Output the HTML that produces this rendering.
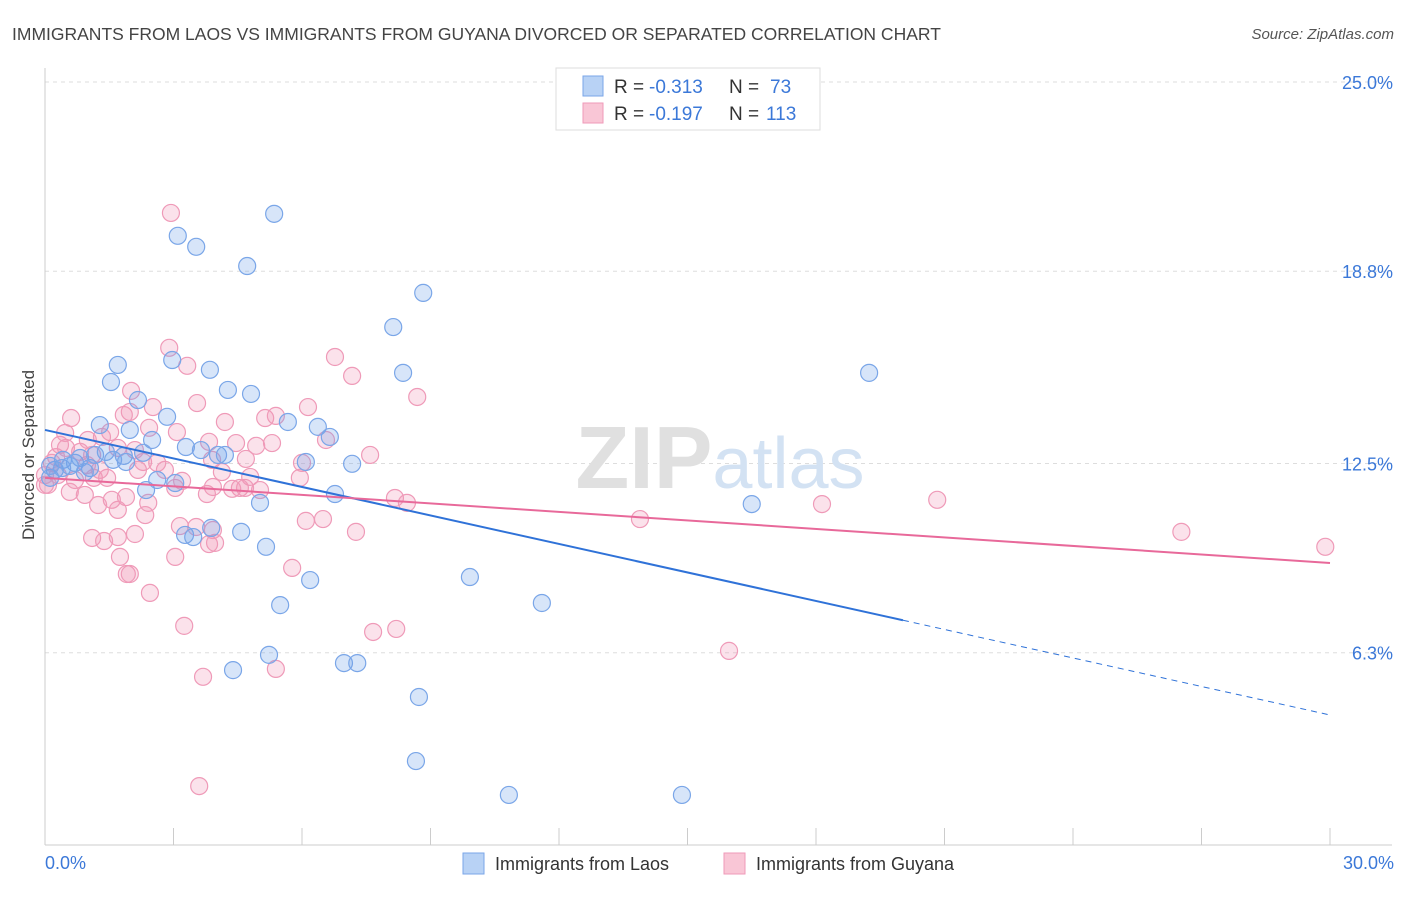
<!DOCTYPE html>
<html><head><meta charset="utf-8"><style>
body{margin:0;background:#fff;font-family:"Liberation Sans",sans-serif}
svg text{font-family:"Liberation Sans",sans-serif}
</style></head><body>
<svg id="chart" width="1406" height="892">
<text x="12" y="40" font-size="17.5" fill="#444">IMMIGRANTS FROM LAOS VS IMMIGRANTS FROM GUYANA DIVORCED OR SEPARATED CORRELATION CHART</text>
<text x="1394" y="39" font-size="15" fill="#555" font-style="italic" text-anchor="end">Source: ZipAtlas.com</text>
<g id="grid"></g>
<text x="720" y="488" font-size="88" text-anchor="middle" font-family="Liberation Serif"><tspan fill="#e0e0e0" font-weight="bold">ZIP</tspan><tspan fill="#d3e2f3" font-family="Liberation Sans" font-size="72">atlas</tspan></text>
<text transform="translate(34,455) rotate(-90)" font-size="17" fill="#444" text-anchor="middle">Divorced or Separated</text>
<g id="marks"></g>
<g>
<rect x="556" y="68" width="264" height="62" fill="#fff" stroke="#ddd"/>
<rect x="583" y="76" width="20" height="20" fill="#b8d2f5" stroke="#7aa6e8"/>
<rect x="583" y="103" width="20" height="20" fill="#f9c6d6" stroke="#ef9ab8"/>
<text x="614" y="93" font-size="19" fill="#333">R =</text>
<text x="649" y="93" font-size="19" fill="#3b78d8">-0.313</text>
<text x="729" y="93" font-size="19" fill="#333">N =</text>
<text x="770" y="93" font-size="19" fill="#3b78d8">73</text>
<text x="614" y="120" font-size="19" fill="#333">R =</text>
<text x="649" y="120" font-size="19" fill="#3b78d8">-0.197</text>
<text x="729" y="120" font-size="19" fill="#333">N =</text>
<text x="766" y="120" font-size="19" fill="#3b78d8">113</text>
</g>
<g>
<rect x="463" y="853" width="21" height="21" fill="#b8d2f5" stroke="#7aa6e8"/>
<text x="495" y="870" font-size="18" fill="#333">Immigrants from Laos</text>
<rect x="724" y="853" width="21" height="21" fill="#f9c6d6" stroke="#ef9ab8"/>
<text x="756" y="870" font-size="18" fill="#333">Immigrants from Guyana</text>
</g>
</svg>
<script>
const yTicks=[25.0,18.8,12.5,6.3];
const yTickLabels=["25.0%","18.8%","12.5%","6.3%"];
const xTickCount=11;
const xLabels=["0.0%","30.0%"];
const laosX=[5.35,3.1,3.53,4.72,8.83,8.13,1.7,2.97,8.36,3.85,1.54,4.27,4.81,2.17,2.85,1.28,1.98,2.5,3.29,1.42,1.84,2.29,3.64,4.04,4.2,5.67,6.37,6.65,6.09,7.17,0.42,0.7,1.05,0.23,0.12,0.4,0.82,1.17,1.59,1.89,2.36,2.62,3.04,6.77,5.02,3.27,3.46,3.88,4.58,5.16,6.19,5.49,9.92,11.6,16.5,19.24,4.39,5.23,6.98,7.29,8.73,8.66,10.83,14.87,0.12,0.58,0.93];
const laosY=[20.68,19.96,19.6,18.97,18.09,16.97,15.73,15.89,15.47,15.57,15.17,14.91,14.78,14.58,14.03,13.76,13.6,13.27,13.04,12.88,12.75,12.85,12.94,12.78,12.78,13.86,13.7,13.37,12.55,12.49,12.62,12.52,12.35,12.29,12.03,12.35,12.68,12.78,12.62,12.55,11.63,11.96,11.86,11.5,11.21,10.16,10.09,10.39,10.26,9.77,8.68,7.86,8.78,7.93,11.17,15.47,5.73,6.23,5.96,5.96,4.85,2.75,1.64,1.64,12.42,12.42,12.22];
const guyX=[2.94,2.9,6.77,3.32,7.17,8.69,2.01,2.52,1.98,0.61,1.84,3.55,4.2,5.14,5.39,6.14,3.08,2.43,1.33,3.83,4.46,5.3,6.56,7.59,1.0,0.35,0.49,0.82,1.1,1.7,2.29,2.62,3.9,4.69,6.0,4.79,4.13,0.3,0.7,1.14,1.45,0.07,0.58,0.93,1.56,1.89,2.41,3.04,3.2,3.78,3.92,4.55,4.67,5.02,5.95,8.17,8.45,3.15,3.53,3.92,2.34,1.7,1.24,6.09,6.49,7.26,1.1,1.38,1.7,2.1,1.75,1.91,1.98,3.04,3.83,3.97,5.77,2.45,3.25,3.69,3.6,5.39,7.66,8.2,13.89,15.97,18.14,20.83,26.53,29.89,0.26,1.28,2.17,0.47,2.1,2.8,4.37,1.52,0.98,0.16,0.0,4.93,0.0];
const guyY=[20.71,16.29,15.99,15.7,15.37,14.68,14.88,14.35,14.19,13.99,14.09,14.48,13.86,13.99,14.06,14.35,13.53,13.67,13.37,13.21,13.17,13.17,13.27,12.78,13.27,13.11,13.01,12.88,12.78,13.01,12.55,12.52,12.62,12.65,12.52,12.06,12.22,12.12,11.96,12.03,12.03,11.8,11.57,11.47,11.31,11.4,11.21,11.7,11.93,11.5,11.73,11.7,11.7,11.63,12.03,11.37,11.21,10.45,10.42,10.32,10.81,10.98,11.14,10.62,10.68,10.26,10.06,9.96,10.09,10.19,9.44,8.88,8.88,9.44,9.86,9.9,9.08,8.26,7.18,5.51,1.93,5.77,6.98,7.08,10.68,6.36,11.17,11.31,10.26,9.77,12.71,12.29,12.29,13.5,12.94,12.29,11.67,13.53,12.45,12.52,11.8,13.08,12.12];
const laosTrend=[13.6,4.26];
const laosSolidEnd=20.03;
const guyTrend=[12.03,9.24];
const X0=45,X1=1330,YB=845,YT=82;
const sx=v=>X0+(v/30)*(X1-X0);
const sy=v=>YB-(v/25)*(YB-YT);
const NS="http://www.w3.org/2000/svg";
function mk(tag,attrs,parent){const e=document.createElementNS(NS,tag);for(const k in attrs)e.setAttribute(k,attrs[k]);parent.appendChild(e);return e;}
const grid=document.getElementById('grid');
yTicks.forEach((t,i)=>{
 const l=mk('line',{x1:X0,x2:1392,y1:sy(t),y2:sy(t),stroke:'#ddd','stroke-dasharray':'4,4'},grid);
 
 
 const tx=mk('text',{x:1393,y:sy(t)+7,'font-size':18,fill:'#3b78d8','text-anchor':'end'},grid);
 tx.textContent=yTickLabels[i];
 
 
});
const ax=mk('line',{x1:X0,x2:X0,y1:68,y2:YB,stroke:'#ccc'},grid);


const bx=mk('line',{x1:X0,x2:1392,y1:YB,y2:YB,stroke:'#ccc'},grid);


for(let i=0;i<xTickCount;i++){
 const x=sx(i*30/(xTickCount-1));
 const t=mk('line',{x1:x,x2:x,y1:YB-17,y2:YB,stroke:'#ccc'},grid);
 
 
}
[[0,'start',45],[1,'end',1394]].forEach(([i,a,x])=>{
 const t=mk('text',{x:x,y:869,'font-size':18,fill:'#3b78d8','text-anchor':a},grid);
 t.textContent=xLabels[i];
 
 
});
const marks=document.getElementById('marks');
guyX.forEach((v,i)=>{
 const c=mk('circle',{cx:sx(v),cy:sy(guyY[i]),r:8.5,fill:'rgba(242,150,182,0.28)',stroke:'#ef9ab8','stroke-width':1.2},marks);
 
 
});
laosX.forEach((v,i)=>{
 const c=mk('circle',{cx:sx(v),cy:sy(laosY[i]),r:8.5,fill:'rgba(110,160,235,0.28)',stroke:'#7aa6e8','stroke-width':1.2},marks);
 
 
});
const ly=x=>laosTrend[0]+(laosTrend[1]-laosTrend[0])*x/30;
const l1=mk('line',{x1:sx(0),y1:sy(laosTrend[0]),x2:sx(laosSolidEnd),y2:sy(ly(laosSolidEnd)),stroke:'#2f72d8','stroke-width':2},marks);


const l2=mk('line',{x1:sx(laosSolidEnd),y1:sy(ly(laosSolidEnd)),x2:sx(30),y2:sy(laosTrend[1]),stroke:'#2f72d8','stroke-width':1,'stroke-dasharray':'6,5'},marks);


const l3=mk('line',{x1:sx(0),y1:sy(guyTrend[0]),x2:sx(30),y2:sy(guyTrend[1]),stroke:'#e8699a','stroke-width':2},marks);


</script>
</body></html>
